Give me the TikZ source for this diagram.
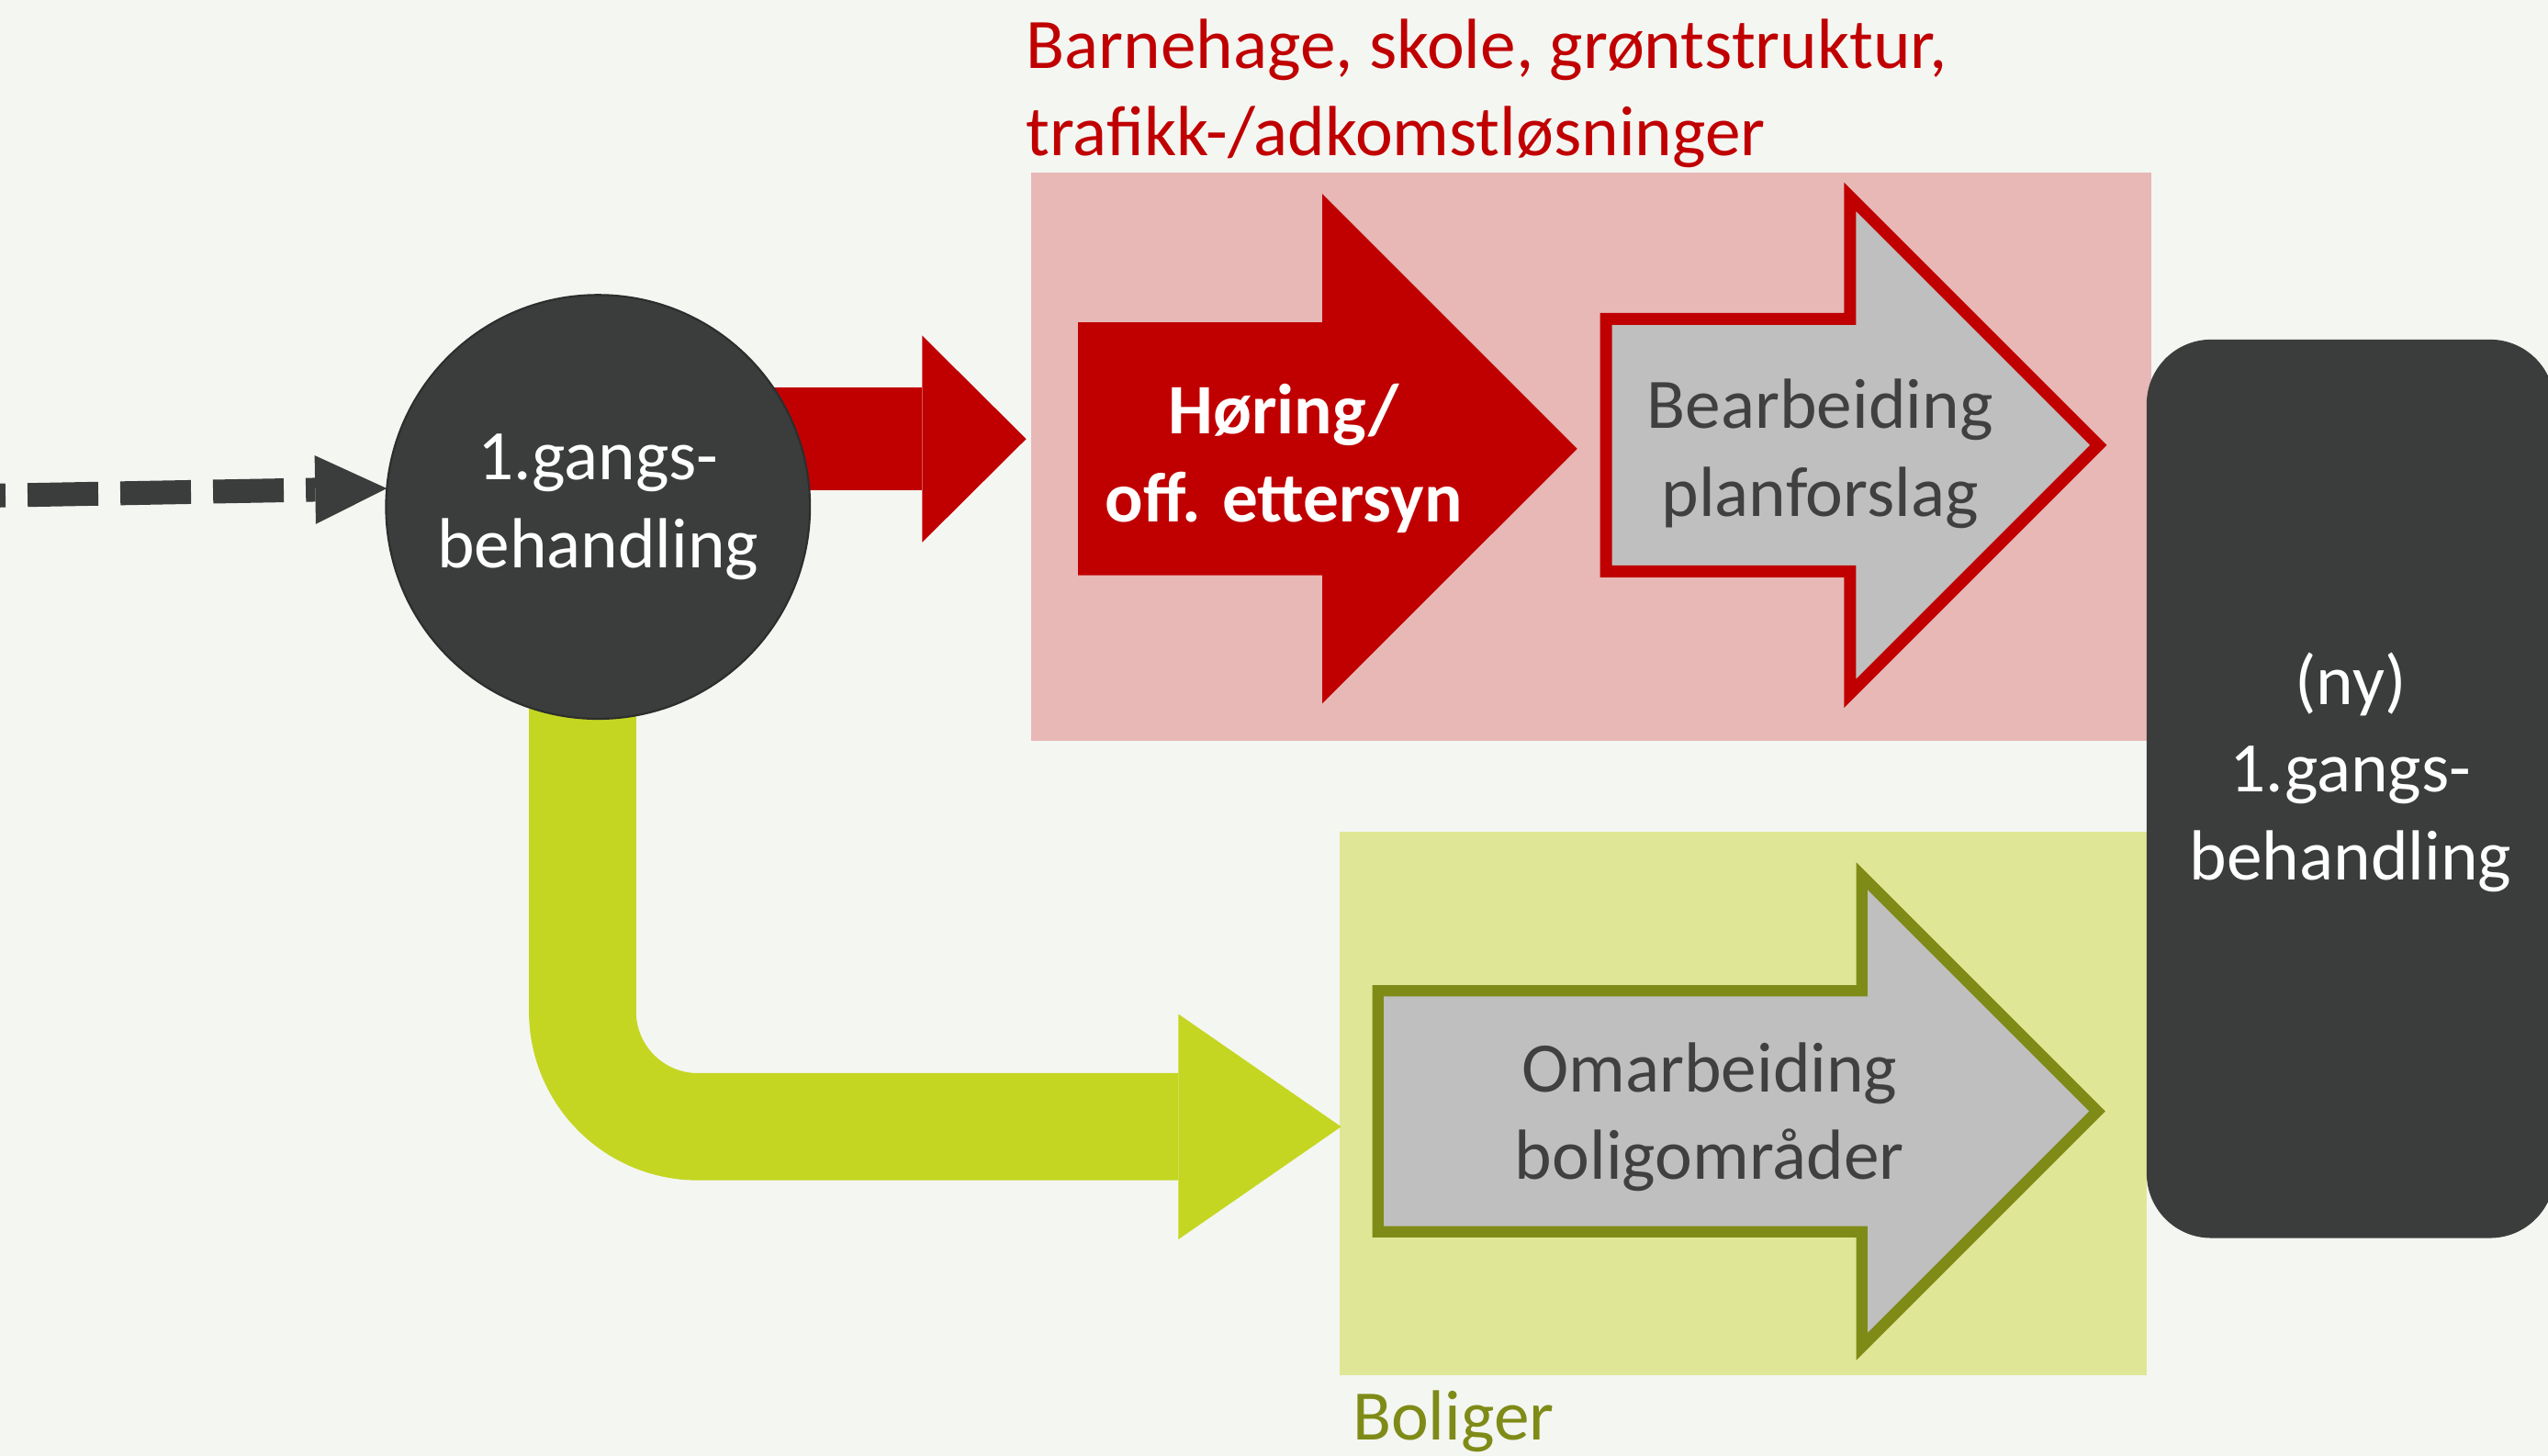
\documentclass[tikz,border=0pt]{standalone}
\usepackage{fontspec}
\setmainfont{Carlito}
\usetikzlibrary{shapes.arrows}
\usetikzlibrary{arrows.meta}
\usetikzlibrary{positioning}

\definecolor{bgcol}{HTML}{F4F6F2}
\definecolor{darkc}{HTML}{3B3D3C}
\definecolor{redc}{HTML}{C00000}
\definecolor{pinkc}{HTML}{E7B8B6}
\definecolor{zonegreen}{HTML}{DFE796}
\definecolor{limec}{HTML}{C4D621}
\definecolor{olivec}{HTML}{7F8B17}
\definecolor{greyc}{HTML}{BFBFBF}
\definecolor{textgrey}{HTML}{404040}

\pgfdeclarelayer{back}
\pgfsetlayers{back,main}

\begin{document}
\begin{tikzpicture}[
    x=0.017698cm, y=0.017698cm,
    font=\fontsize{22}{27.2}\selectfont
]
\tikzset{
    darknode/.style = {fill=darkc, text=white, align=center, inner sep=0pt, outer sep=0pt},
    blockarrow/.style = {single arrow, anchor=tail, inner xsep=0pt, outer sep=0pt},
    blocktext/.style = {align=center, inner sep=0pt},
    boldtext/.style = {font=\fontsize{22}{27.2}\selectfont\bfseries},
    dashlink/.style = {darkc, line width=7.4pt, dash pattern=on 21.9pt off 6.85pt, dash phase=20.2pt,
        -{Triangle[length=22.2pt,width=21.3pt,line width=0pt]}},
    redlink/.style = {redc, line width=31.7pt, -{Triangle[length=32.2pt,width=64pt,line width=0pt]}},
    greenlink/.style = {limec, line width=33.2pt, rounded corners=35.75pt,
        -{Triangle[length=50.4pt,width=69.8pt,line width=0pt]}}
}
\useasboundingbox (0,0) rectangle (1568,896);
\clip (0,0) rectangle (1568,896);

% free ends of the links
\coordinate (dstart) at (0,591);
\coordinate (redtip) at (631.5,625.8);
\coordinate (greentip) at (825.3,202.5);

% process nodes
\node[darknode, circle, draw=darkc!75!black, line width=0.6pt, minimum size=131.4pt] (first) at (368,584) {1.gangs-\\behandling};
\node[darknode, rounded corners=20pt, minimum width=126.4pt, minimum height=278.5pt, text depth=14pt] (second) at (1446.5,410.5) {(ny)\\1.gangs-\\behandling};

\node[blockarrow, fill=redc, minimum height=154.7pt, inner ysep=39pt, single arrow head extend=39.8pt] (hoering) at (663.4,619.8) {};
\node[blockarrow, fill=greyc, draw=redc, line width=3.7pt, minimum height=152.6pt, inner ysep=37.3pt, single arrow head extend=37.8pt] (bearb) at (988.3,622) {};
\node[blockarrow, fill=greyc, draw=olivec, line width=3.5pt, minimum height=222.9pt, inner ysep=35.6pt, single arrow head extend=35.6pt] (omarb) at (848,212) {};

\node[blocktext, boldtext, text=white] (hoeringtxt) at (790,613.8) {Høring/\\off. ettersyn};
\node[blocktext, text=textgrey] (bearbtxt) at (1120,616.7) {Bearbeiding\\planforslag};
\node[blocktext, text=textgrey] (omarbtxt) at (1052,208.5) {Omarbeiding\\boligområder};

% zone labels
\node[blocktext, align=left, anchor=west, text=redc] (temaer) at (631,838.5) {Barnehage, skole, grøntstruktur,\\trafikk-/adkomstløsninger};
\node[inner sep=0pt, anchor=base west, text=olivec] (boliger) at (832,9.5) {Boliger};

\begin{pgfonlayer}{back}
\fill[bgcol] (0,0) rectangle (1568,896);
\fill[pinkc] (634.5,440) rectangle (1324,790);
\fill[zonegreen] (824.4,49.7) rectangle (1321,384.2);
\draw[dashlink] (dstart) -- (first.175);
\draw[redlink] (first.center |- redtip) -- (redtip);
\draw[greenlink] ([xshift=-4.8pt]first.center) |- (greentip);
\end{pgfonlayer}
\end{tikzpicture}
\end{document}
